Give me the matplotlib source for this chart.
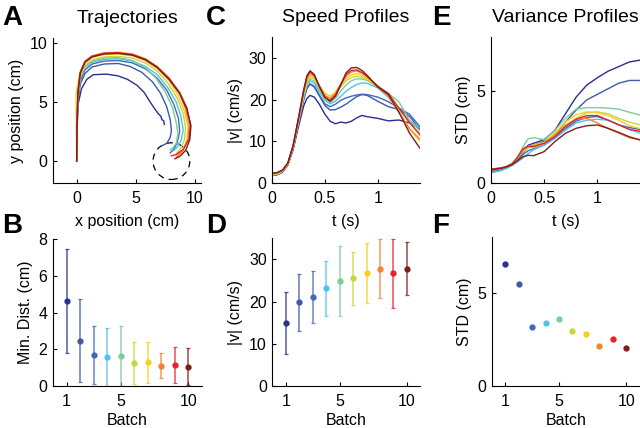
import numpy as np
import matplotlib
matplotlib.use('Agg')
import matplotlib.pyplot as plt
from matplotlib.patches import Circle

plt.rcParams['font.family'] = ['Liberation Sans', 'DejaVu Sans']

# batch colours (jet-like, 1 = first batch ... 10 = last batch)
colors = ['#2b2f8f', '#3d5aa8', '#4268bc', '#4ec3ea', '#7ccc9c',
          '#c5d73e', '#f8cf1a', '#f58233', '#e2252b', '#7f1d1d']
batches = [1, 2, 3, 4, 5, 6, 7, 8, 9, 10]

# --- A: trajectories (x, y in cm) ---
traj_x1 = [0, 0.03, 0.12, 0.4, 0.85, 1.4, 2.5, 3.5, 4.3, 5.1, 5.7, 6.2, 6.6, 6.9, 7.1, 7.2, 7.35, 7.4]
traj_y1 = [0, 2.5, 4.8, 6.1, 6.9, 7.3, 7.35, 7.2, 6.9, 6.4, 5.8, 5.0, 4.4, 4.0, 3.8, 3.5, 3.4, 3.1]
traj_x2 = [0, 0.03, 0.1, 0.3, 0.7, 1.3, 2.3, 3.5, 4.5, 5.5, 6.4, 7.1, 7.6, 7.9, 8.0, 7.9, 7.6, 7.2]
traj_y2 = [0, 3, 5, 6.5, 7.4, 7.95, 8.2, 8.25, 8.0, 7.5, 6.7, 5.7, 4.6, 3.5, 2.6, 2.0, 1.5, 1.3]
traj_x3 = [0, 0.03, 0.1, 0.3, 0.7, 1.3, 2.3, 3.5, 4.7, 5.8, 6.8, 7.6, 8.2, 8.6, 8.7, 8.5, 8.2, 7.9]
traj_y3 = [0, 3, 5.3, 6.8, 7.7, 8.2, 8.45, 8.5, 8.3, 7.8, 7.0, 6.0, 4.8, 3.6, 2.5, 1.6, 1.0, 0.7]
traj_x4 = [0, 0.03, 0.1, 0.3, 0.7, 1.3, 2.3, 3.5, 4.7, 5.8, 6.8, 7.7, 8.4, 8.8, 9.0, 8.8, 8.5, 8.2]
traj_y4 = [0, 3, 5.4, 7.0, 7.9, 8.35, 8.6, 8.65, 8.45, 8.0, 7.3, 6.2, 5.0, 3.8, 2.6, 1.7, 1.2, 0.9]
traj_x5 = [0, 0.03, 0.1, 0.3, 0.7, 1.3, 2.3, 3.5, 4.7, 5.8, 6.7, 7.5, 8.1, 8.4, 8.55, 8.4, 8.1, 7.9]
traj_y5 = [0, 3, 5.5, 7.1, 8.0, 8.45, 8.7, 8.75, 8.5, 7.9, 7.0, 5.8, 4.5, 3.3, 2.3, 1.5, 1.1, 0.95]
traj_x6 = [0, 0.03, 0.1, 0.3, 0.7, 1.3, 2.3, 3.5, 4.7, 5.8, 6.8, 7.7, 8.5, 9.0, 9.2, 9.1, 8.8, 8.4]
traj_y6 = [0, 3, 5.6, 7.2, 8.1, 8.55, 8.8, 8.85, 8.7, 8.3, 7.6, 6.6, 5.3, 4.0, 2.8, 1.8, 1.1, 0.6]
traj_x7 = [0, -0.03, -0.05, 0.25, 0.7, 1.3, 2.3, 3.5, 4.7, 5.8, 6.8, 7.8, 8.6, 9.1, 9.4, 9.3, 9.0, 8.5]
traj_y7 = [0, 3, 5.7, 7.4, 8.3, 8.75, 9.0, 9.05, 8.9, 8.5, 7.8, 6.8, 5.5, 4.2, 2.9, 1.8, 1.0, 0.5]
traj_x8 = [0, 0.03, 0.1, 0.3, 0.7, 1.3, 2.3, 3.5, 4.7, 5.8, 6.8, 7.8, 8.7, 9.2, 9.5, 9.4, 9.0, 8.4]
traj_y8 = [0, 3, 5.8, 7.5, 8.45, 8.9, 9.15, 9.2, 9.05, 8.65, 8.0, 7.0, 5.7, 4.4, 3.0, 1.8, 0.9, 0.3]
traj_x9 = [0, 0.03, 0.1, 0.3, 0.7, 1.3, 2.3, 3.5, 4.7, 5.8, 6.8, 7.8, 8.7, 9.3, 9.6, 9.5, 9.0, 8.4, 8.0]
traj_y9 = [0, 3, 5.8, 7.5, 8.4, 8.85, 9.1, 9.15, 9.0, 8.6, 7.95, 7.0, 5.8, 4.5, 3.1, 1.9, 1.0, 0.55, 0.45]
traj_x10 = [0, 0.03, 0.1, 0.3, 0.7, 1.3, 2.3, 3.5, 4.7, 5.8, 6.8, 7.8, 8.7, 9.3, 9.65, 9.55, 9.2, 8.7, 8.3]
traj_y10 = [0, 3, 5.7, 7.4, 8.35, 8.8, 9.05, 9.1, 8.95, 8.55, 7.9, 6.9, 5.7, 4.4, 3.0, 1.8, 0.9, 0.4, 0.2]
target_xy = (8.0, 0.0)
target_r = 1.55

# --- B: minimum distance to target (mean, sd) ---
mindist_mean = [4.65, 2.48, 1.72, 1.57, 1.63, 1.27, 1.3, 1.12, 1.16, 1.07]
mindist_sd = [2.83, 2.26, 1.58, 1.58, 1.63, 1.15, 1.13, 0.67, 0.98, 1.0]

# --- C: speed profiles ---
t_speed = [0, 0.05, 0.1, 0.15, 0.2, 0.25, 0.3, 0.33, 0.36, 0.4, 0.45, 0.5, 0.55,
           0.6, 0.65, 0.7, 0.75, 0.8, 0.85, 0.9, 1.0, 1.1, 1.2, 1.3, 1.4]
speed1 = [1.8, 2.0, 2.6, 4.3, 8.0, 13.5, 18.5, 20.3, 21.0, 20.6, 18.8, 16.5, 14.8, 14.2, 14.6, 14.4, 14.8, 15.6, 16.2, 15.9, 15.5, 14.9, 15.1, 14.4, 13.0]
speed2 = [1.8, 2.0, 2.7, 4.4, 8.3, 14.2, 20.0, 22.6, 23.7, 23.0, 20.8, 18.6, 17.5, 17.6, 18.2, 18.9, 19.8, 20.7, 21.2, 21.0, 19.6, 18.3, 17.6, 16.0, 12.8]
speed3 = [1.9, 2.1, 2.7, 4.4, 8.4, 14.4, 20.3, 22.8, 23.8, 23.2, 21.0, 19.0, 18.3, 18.9, 19.8, 20.4, 20.8, 21.1, 21.3, 21.2, 20.6, 19.5, 18.0, 16.5, 13.5]
speed4 = [1.9, 2.1, 2.8, 4.5, 8.5, 14.6, 20.6, 23.3, 24.5, 23.9, 21.8, 19.8, 19.0, 19.6, 20.8, 22.0, 22.9, 23.6, 24.0, 23.9, 22.8, 20.5, 17.5, 15.0, 13.2]
speed5 = [2.0, 2.2, 2.8, 4.5, 8.6, 14.8, 20.9, 23.8, 25.0, 24.4, 22.2, 20.0, 19.3, 20.3, 22.0, 23.5, 24.5, 25.0, 24.9, 24.6, 23.0, 21.5, 19.5, 15.0, 12.5]
speed6 = [2.0, 2.2, 2.9, 4.6, 8.7, 15.0, 21.2, 24.2, 25.5, 25.0, 22.9, 20.9, 20.2, 21.2, 23.0, 24.5, 25.3, 25.6, 25.4, 24.8, 23.0, 21.0, 17.8, 14.5, 11.8]
speed7 = [2.1, 2.3, 2.9, 4.6, 8.8, 15.1, 21.5, 24.6, 25.9, 25.4, 23.4, 21.5, 20.8, 21.8, 23.5, 25.0, 25.9, 26.2, 25.9, 25.0, 23.2, 20.8, 17.0, 13.0, 10.0]
speed8 = [2.2, 2.4, 3.0, 4.7, 8.9, 15.3, 21.8, 25.0, 26.3, 25.6, 23.2, 21.0, 20.3, 21.5, 23.7, 25.6, 26.6, 26.9, 26.4, 25.5, 23.3, 21.0, 17.0, 13.0, 10.5]
speed9 = [2.3, 2.5, 3.1, 4.8, 9.0, 15.5, 22.2, 25.5, 26.7, 25.8, 23.0, 20.6, 19.8, 21.0, 23.6, 26.0, 27.0, 27.1, 26.5, 25.5, 23.2, 21.5, 18.0, 14.5, 11.5]
speed10 = [2.3, 2.5, 3.1, 4.8, 9.0, 15.5, 22.3, 25.7, 26.9, 26.0, 23.0, 20.5, 19.6, 20.8, 23.5, 26.4, 27.6, 27.7, 27.0, 25.8, 23.0, 21.2, 17.0, 12.0, 8.3]

# --- D: peak speed per batch (mean, sd) ---
speed_mean = [14.9, 19.8, 21.1, 23.1, 24.9, 25.5, 26.7, 27.7, 26.7, 27.8]
speed_sd = [7.35, 6.7, 6.1, 6.5, 8.3, 6.3, 7.05, 6.95, 8.15, 6.2]

# --- E: variance profiles ---
t_std = [0, 0.1, 0.15, 0.2, 0.25, 0.3, 0.35, 0.4, 0.5, 0.6, 0.7, 0.8, 0.9, 1.0, 1.1, 1.2, 1.3, 1.4]
std1 = [0.6, 0.75, 0.85, 1.0, 1.3, 1.75, 2.05, 2.15, 2.35, 2.85, 3.75, 4.65, 5.3, 5.7, 6.05, 6.3, 6.55, 6.65]
std2 = [0.6, 0.72, 0.82, 0.98, 1.25, 1.65, 1.95, 2.05, 2.25, 2.6, 3.3, 3.95, 4.5, 4.8, 5.1, 5.4, 5.55, 5.55]
std3 = [0.65, 0.75, 0.85, 1.0, 1.25, 1.55, 1.75, 1.85, 2.05, 2.45, 2.95, 3.35, 3.55, 3.6, 3.4, 3.15, 3.0, 2.9]
std4 = [0.55, 0.68, 0.8, 0.95, 1.15, 1.35, 1.6, 1.8, 2.06, 2.4, 2.87, 3.25, 3.4, 3.45, 3.4, 3.15, 2.9, 2.7]
std5 = [0.65, 0.78, 0.88, 1.05, 1.4, 1.95, 2.4, 2.45, 2.35, 2.85, 3.5, 4.0, 4.08, 4.08, 4.05, 4.0, 3.83, 3.68]
std6 = [0.7, 0.8, 0.9, 1.05, 1.35, 1.7, 1.9, 1.97, 2.15, 2.6, 3.15, 3.5, 3.8, 3.85, 3.75, 3.5, 3.3, 3.15]
std7 = [0.7, 0.8, 0.9, 1.05, 1.4, 1.8, 2.0, 2.05, 2.2, 2.7, 3.3, 3.7, 3.85, 3.8, 3.65, 3.4, 3.1, 2.95]
std8 = [0.75, 0.82, 0.9, 1.05, 1.4, 1.8, 1.95, 1.95, 2.15, 2.6, 3.1, 3.45, 3.5, 3.25, 2.95, 2.7, 2.45, 2.35]
std9 = [0.75, 0.82, 0.9, 1.05, 1.4, 1.85, 2.0, 1.98, 2.15, 2.5, 3.05, 3.45, 3.65, 3.65, 3.4, 3.15, 2.9, 2.8]
std10 = [0.7, 0.8, 0.88, 1.0, 1.2, 1.43, 1.5, 1.48, 1.7, 2.24, 2.69, 2.96, 3.1, 3.14, 2.96, 2.74, 2.5, 2.33]

# --- F: end-point STD per batch ---
std_end = [6.57, 5.49, 3.19, 3.41, 3.61, 2.98, 2.8, 2.17, 2.55, 2.08]

traj_x = [traj_x1, traj_x2, traj_x3, traj_x4, traj_x5, traj_x6, traj_x7, traj_x8, traj_x9, traj_x10]
traj_y = [traj_y1, traj_y2, traj_y3, traj_y4, traj_y5, traj_y6, traj_y7, traj_y8, traj_y9, traj_y10]
speeds = [speed1, speed2, speed3, speed4, speed5, speed6, speed7, speed8, speed9, speed10]
stds = [std1, std2, std3, std4, std5, std6, std7, std8, std9, std10]

FS = 11.5
fig = plt.figure(figsize=(6.4, 4.28), dpi=100)
axA = fig.add_axes([0.0828, 0.5724, 0.2313, 0.3388])
axC = fig.add_axes([0.425, 0.5724, 0.2313, 0.3411])
axE = fig.add_axes([0.7672, 0.5724, 0.2328, 0.3411])
axB = fig.add_axes([0.0828, 0.0974, 0.2323, 0.3442])
axD = fig.add_axes([0.4255, 0.0974, 0.2313, 0.3465])
axF = fig.add_axes([0.7683, 0.0974, 0.2313, 0.3481])

for ax in [axA, axB, axC, axD, axE, axF]:
    ax.spines['top'].set_visible(False)
    ax.spines['right'].set_visible(False)
    ax.spines['left'].set_linewidth(0.8)
    ax.spines['bottom'].set_linewidth(0.8)
    ax.tick_params(direction='in', length=3, width=0.8, labelsize=FS)
    ax.tick_params(axis='x', pad=5.5)
    ax.tick_params(axis='y', pad=4)


def batch_errorbars(ax, means, sds):
    for i in range(10):
        _, caps, bars = ax.errorbar(batches[i], means[i], yerr=sds[i], fmt='o', color=colors[i],
                                    ms=3.5, elinewidth=1.1, capsize=1.5, capthick=0.9)
        for b in bars:
            b.set_alpha(0.8)
        for c in caps:
            c.set_alpha(0.8)


# A
for i in range(10):
    axA.plot(traj_x[i], traj_y[i], color=colors[i], lw=1.0)
axA.add_patch(Circle(target_xy, target_r, fill=False, ls=(0, (5, 4)), lw=0.9, color='k'))
axA.set_xlim(-2, 10.5)
axA.set_ylim(-1.85, 10.4)
axA.set_xticks([0, 5, 10])
axA.set_yticks([0, 5, 10])
axA.set_xlabel('x position (cm)', fontsize=FS, labelpad=6)
axA.set_ylabel('y position (cm)', fontsize=FS)
axA.set_title('Trajectories', fontsize=14, pad=11)

# C
for i in range(10):
    axC.plot(t_speed, speeds[i], color=colors[i], lw=1.0)
axC.set_xlim(0, 1.4)
axC.set_ylim(0, 35)
axC.set_xticks([0, 0.5, 1])
axC.set_xticklabels(['0', '0.5', '1'])
axC.set_yticks([0, 10, 20, 30])
axC.set_xlabel('t (s)', fontsize=FS, labelpad=6)
axC.set_ylabel('|v| (cm/s)', fontsize=FS)
axC.set_title('Speed Profiles', fontsize=14, pad=11)

# E
for i in range(10):
    axE.plot(t_std, stds[i], color=colors[i], lw=1.0)
axE.set_xlim(0, 1.4)
axE.set_ylim(0, 7.9)
axE.set_xticks([0, 0.5, 1])
axE.set_xticklabels(['0', '0.5', '1'])
axE.set_yticks([0, 5])
axE.set_xlabel('t (s)', fontsize=FS, labelpad=6)
axE.set_ylabel('STD (cm)', fontsize=FS)
axE.set_title('Variance Profiles', fontsize=14, pad=11)

# B
batch_errorbars(axB, mindist_mean, mindist_sd)
axB.set_xlim(0, 11)
axB.set_ylim(0, 8)
axB.set_xticks([1, 5, 10])
axB.set_yticks([0, 2, 4, 6, 8])
axB.set_xlabel('Batch', fontsize=FS, labelpad=3)
axB.set_ylabel('Min. Dist. (cm)', fontsize=FS)

# D
batch_errorbars(axD, speed_mean, speed_sd)
axD.set_xlim(0, 11)
axD.set_ylim(0, 35)
axD.set_xticks([1, 5, 10])
axD.set_yticks([0, 10, 20, 30])
axD.set_xlabel('Batch', fontsize=FS, labelpad=3)
axD.set_ylabel('|v| (cm/s)', fontsize=FS)

# F
for i in range(10):
    axF.plot(batches[i], std_end[i], 'o', color=colors[i], ms=3.5)
axF.set_xlim(0, 11)
axF.set_ylim(0, 8)
axF.set_xticks([1, 5, 10])
axF.set_yticks([0, 5])
axF.set_xlabel('Batch', fontsize=FS, labelpad=3)
axF.set_ylabel('STD (cm)', fontsize=FS)

# panel letters
for lab, x, y in [('A', 0.003, 0.9416), ('C', 0.322, 0.9416), ('E', 0.675, 0.9416),
                  ('B', 0.003, 0.4556), ('D', 0.322, 0.4556), ('F', 0.675, 0.4556)]:
    fig.text(x, y, lab, fontsize=20, fontweight='bold', va='baseline', ha='left')

fig.savefig('out.png', dpi=100)
